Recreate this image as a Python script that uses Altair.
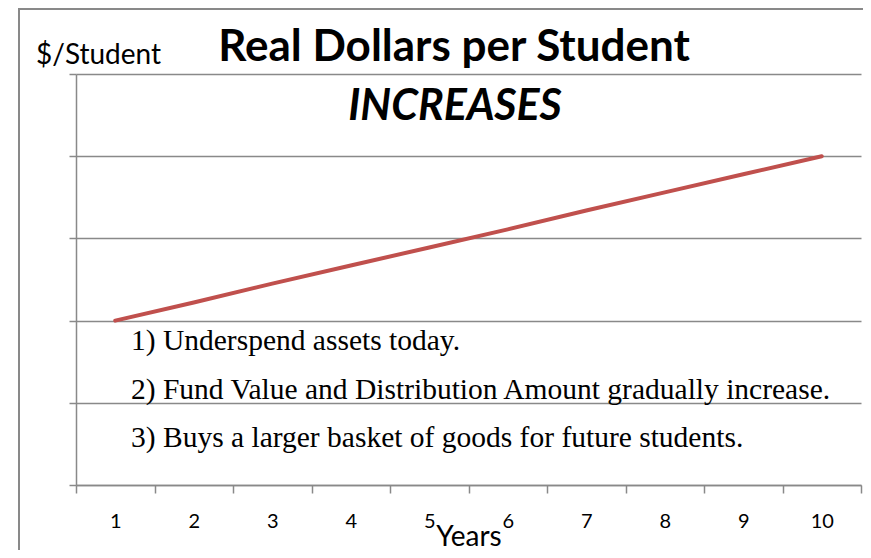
import altair as alt
import pandas as pd

# ---- data ----
years = [1, 2, 3, 4, 5, 6, 7, 8, 9, 10]
dollars = [2.0, 2.22, 2.45, 2.67, 2.89, 3.11, 3.34, 3.56, 3.78, 4.0]
x_tick_values = [0.5, 1.5, 2.5, 3.5, 4.5, 5.5, 6.5, 7.5, 8.5, 9.5, 10.5]
y_tick_values = [0, 1, 2, 3, 4, 5]
title_main = "Real Dollars per Student"
title_sub = "INCREASES"
y_title = "$/Student"
x_title = "Years"
notes = [
    "1) Underspend assets today.",
    "2) Fund Value and Distribution Amount gradually increase.",
    "3) Buys a larger basket of goods for future students.",
]

# ---- layout / style ----
W, H = 785, 411
PAD = {"left": 68, "top": 66, "right": 2, "bottom": 65}
BAND = W / 10
GRAY = "#898989"
LINE_RED = "#C0504D"
SANS = "Lato"
SERIF = "Liberation Serif"
note_y = [276, 325, 373]

df = pd.DataFrame({"Year": years, "Dollars": dollars})
one = pd.DataFrame({"k": [0]})

line = alt.Chart(df).mark_line(color=LINE_RED, strokeWidth=4, strokeCap="round").encode(
    x=alt.X(
        "Year:Q",
        scale=alt.Scale(domain=[0.5, 10.5], nice=False, zero=False),
        axis=alt.Axis(
            values=x_tick_values,
            labelExpr="datum.value < 10 ? format(datum.value + 0.5, 'd') : ''",
            labelOffset=BAND / 2,
            labelFlush=False,
            labelOverlap=False,
            tickSize=8,
            tickColor=GRAY,
            tickWidth=1.5,
            domainColor=GRAY,
            domainWidth=1.5,
            grid=False,
            labelPadding=18,
            labelFont=SANS,
            labelFontSize=20,
            labelColor="black",
            title=x_title,
            titleFont=SANS,
            titleFontSize=28,
            titleFontWeight="normal",
            titleColor="black",
            titleBaseline="alphabetic",
            titleY=60,
        ),
    ),
    y=alt.Y(
        "Dollars:Q",
        scale=alt.Scale(domain=[0, 5], nice=False),
        axis=alt.Axis(
            values=y_tick_values,
            labels=False,
            title=None,
            tickSize=7,
            tickColor=GRAY,
            tickWidth=1.5,
            domainColor=GRAY,
            domainWidth=1.5,
            grid=True,
            gridColor=GRAY,
            gridWidth=1.5,
        ),
    ),
)

# outer chart frame (left and top edges; right/bottom lie outside the picture)
frame_left = alt.Chart(one).mark_rule(color=GRAY, strokeWidth=2).encode(
    x=alt.value(-57), y=alt.value(-65), y2=alt.value(H + PAD["bottom"])
)
frame_top = alt.Chart(one).mark_rule(color=GRAY, strokeWidth=2).encode(
    x=alt.value(-58), x2=alt.value(W + PAD["right"]), y=alt.value(-65)
)

t_main = alt.Chart(one).mark_text(
    text=title_main, font=SANS, fontSize=44, fontWeight="bold", align="center",
    baseline="alphabetic", color="black"
).encode(x=alt.value(378), y=alt.value(-13))

t_sub = alt.Chart(one).mark_text(
    text=title_sub, font=SANS, fontSize=43, fontWeight="bold", fontStyle="italic",
    align="center", baseline="alphabetic", color="black"
).encode(x=alt.value(379), y=alt.value(46))

t_y = alt.Chart(one).mark_text(
    text=y_title, font=SANS, fontSize=28, align="left", baseline="alphabetic", color="black"
).encode(x=alt.value(-40), y=alt.value(-10))

note_layers = [
    alt.Chart(one).mark_text(
        text=txt, font=SERIF, fontSize=29.5, align="left", baseline="alphabetic", color="black"
    ).encode(x=alt.value(55), y=alt.value(yy))
    for txt, yy in zip(notes, note_y)
]

chart = alt.layer(frame_left, frame_top, line, t_main, t_sub, t_y, *note_layers).properties(
    width=W,
    height=H,
    padding=PAD,
    autosize=alt.AutoSizeParams(type="none"),
    background="white",
).configure_view(strokeWidth=0)

chart.save("out.html", embed_options={"renderer": "svg", "actions": False})
